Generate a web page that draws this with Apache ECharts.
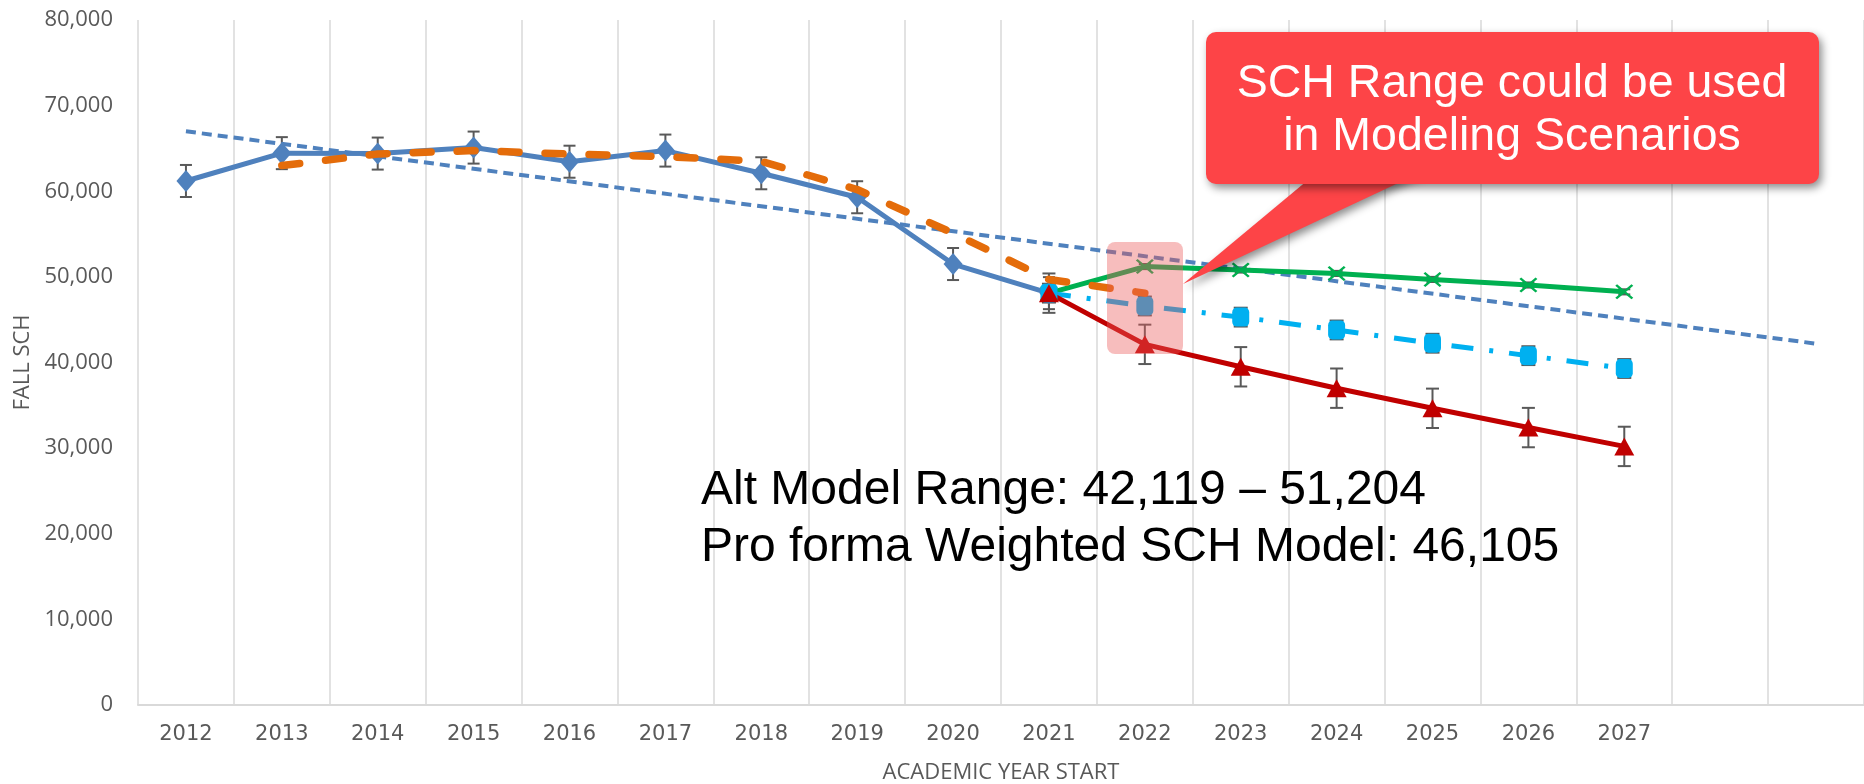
<!DOCTYPE html>
<html><head><meta charset="utf-8">
<script src="https://cdn.jsdelivr.net/npm/echarts@6/dist/echarts.min.js"></script>
<style>html,body{margin:0;padding:0;background:#fff}#c{width:1864px;height:784px}</style>
</head><body><div id="c"></div>
<script>
// Categories (two empty slots at the end, as in the reference)
const years = ['2012','2013','2014','2015','2016','2017','2018','2019','2020','2021','2022','2023','2024','2025','2026','2027','',''];
// Actual fall SCH (blue, diamonds)
const actual = [61200, 64450, 64400, 65100, 63450, 64750, 62100, 59300, 51500, 48100, null, null, null, null, null, null, null, null];
const actualErr = [1870, 1870, 1870, 1870, 1870, 1870, 1870, 1870, 1870, 1870, null, null, null, null, null, null, null, null];
// Orange dashed (moving average)
const movingAvg = [null, 63000, 64350, 64750, 64350, 64050, 63500, 60200, 55100, 49700, 48100, null, null, null, null, null, null, null];
// Linear trend (blue dotted) end points
const trend = [67000, null, null, null, null, null, null, null, null, null, null, null, null, null, null, null, null, 42200];
// Alt model high (green)
const altHigh = [null, null, null, null, null, null, null, null, null, 48100, 51204, 50800, 50400, 49700, 49050, 48250, null, null];
const altHighErr = [null, null, null, null, null, null, null, null, null, 300, 300, 300, 300, 300, 300, 300, null, null];
// Pro forma weighted (cyan dash-dot)
const proForma = [null, null, null, null, null, null, null, null, null, 48100, 46600, 45300, 43800, 42250, 40800, 39300, null, null];
const proFormaErr = [null, null, null, null, null, null, null, null, null, 1100, 1100, 1100, 1100, 1100, 1100, 1100, null, null];
// Alt model low (red)
const altLow = [null, null, null, null, null, null, null, null, null, 48100, 42119, 39500, 37000, 34650, 32400, 30200, null, null];
const altLowErr = [null, null, null, null, null, null, null, null, null, 2300, 2300, 2300, 2300, 2300, 2300, 2300, null, null];

const yTicks = {min: 0, max: 80000, interval: 10000};

function errData(vals, errs) {
  const out = [];
  vals.forEach((v, i) => { if (v != null && errs[i] != null) out.push([i, v, errs[i]]); });
  return out;
}
function errSeries(vals, errs, capW) {
  return {
    type: 'custom', z: 1, silent: true,
    encode: {x: 0, y: 1},
    data: errData(vals, errs),
    renderItem: function (params, api) {
      const x = api.value(0), y = api.value(1), e = api.value(2);
      const t = api.coord([x, y + e]), b = api.coord([x, y - e]);
      const st = {stroke: '#595959', lineWidth: 2};
      return {type: 'group', children: [
        {type: 'line', shape: {x1: t[0], y1: t[1], x2: b[0], y2: b[1]}, style: st},
        {type: 'line', shape: {x1: t[0] - capW / 2, y1: t[1], x2: t[0] + capW / 2, y2: t[1]}, style: st},
        {type: 'line', shape: {x1: b[0] - capW / 2, y1: b[1], x2: b[0] + capW / 2, y2: b[1]}, style: st}
      ]};
    }
  };
}

const xMark = 'path://M0,1 L1,0 L5,4 L9,0 L10,1 L6,5 L10,9 L9,10 L5,6 L1,10 L0,9 L4,5 Z';
const chart = echarts.init(document.getElementById('c'));
chart.setOption({
  animation: false,
  backgroundColor: '#ffffff',
  grid: {left: 138, right: 0, top: 20, bottom: 79, containLabel: false, outerBoundsMode: 'none'},
  xAxis: {
    type: 'category', data: years, boundaryGap: true,
    name: 'ACADEMIC YEAR START', nameLocation: 'middle', nameGap: 57,
    nameTextStyle: {color: '#595959', fontSize: 22, fontFamily: 'Open Sans'},
    axisLine: {show: true, lineStyle: {color: '#D9D9D9', width: 2}},
    axisTick: {show: false},
    axisLabel: {color: '#595959', fontSize: 21, fontFamily: 'DejaVu Sans', margin: 19, interval: 0},
    splitLine: {show: true, lineStyle: {color: '#D9D9D9', width: 1.5}}
  },
  yAxis: {
    type: 'value', min: yTicks.min, max: yTicks.max, interval: yTicks.interval,
    name: 'FALL SCH', nameLocation: 'middle', nameGap: 102,
    nameTextStyle: {color: '#595959', fontSize: 22, fontFamily: 'Open Sans'},
    axisLine: {show: false}, axisTick: {show: false}, splitLine: {show: false},
    axisLabel: {color: '#595959', fontSize: 22, fontFamily: 'Open Sans', margin: 25,
      formatter: v => v.toLocaleString('en-US')}
  },
  series: [
    {type: 'line', data: trend, connectNulls: true, symbol: 'none', z: 2,
      lineStyle: {color: '#4F81BD', width: 4, type: [10, 6]}},
    errSeries(actual, actualErr, 12),
    {type: 'line', data: actual, symbol: 'diamond', symbolSize: [19, 22], z: 3,
      itemStyle: {color: '#4F81BD'}, lineStyle: {color: '#4F81BD', width: 5}},
    {type: 'line', data: movingAvg, symbol: 'none', z: 4,
      lineStyle: {color: '#E46C0A', width: 7.5, type: [18, 26], cap: 'round'}},
    errSeries(altHigh, altHighErr, 12),
    {type: 'line', data: altHigh, symbol: xMark, symbolSize: [18, 15], z: 3,
      itemStyle: {color: '#00B050'}, lineStyle: {color: '#00B050', width: 5}},
    errSeries(proForma, proFormaErr, 14),
    {type: 'line', data: proForma, symbol: 'roundRect', symbolSize: [17, 19], z: 3,
      itemStyle: {color: '#00B0F0'}, lineStyle: {color: '#00B0F0', width: 5, type: [22, 16, 4, 16]}},
    errSeries(altLow, altLowErr, 13),
    {type: 'line', data: altLow, symbol: 'triangle', symbolSize: [20, 18], z: 3,
      itemStyle: {color: '#C00000'}, lineStyle: {color: '#C00000', width: 5}}
  ],
  graphic: [
    {type: 'rect', z: 100, shape: {x: 1107, y: 242, width: 76, height: 112, r: 8},
      style: {fill: 'rgba(235,90,90,0.4)'}},
    {type: 'polygon', z: 101, shape: {points: [[1320, 170], [1426, 170], [1183, 284]]},
      style: {fill: '#FD4447', shadowBlur: 8, shadowColor: 'rgba(0,0,0,0.45)', shadowOffsetX: 3, shadowOffsetY: 4}},
    {type: 'rect', z: 102, shape: {x: 1206, y: 32, width: 613, height: 152, r: 10},
      style: {fill: '#FD4447', shadowBlur: 8, shadowColor: 'rgba(0,0,0,0.45)', shadowOffsetX: 3, shadowOffsetY: 4}},
    {type: 'text', z: 103, style: {text: 'SCH Range could be used\nin Modeling Scenarios', x: 1512, y: 110.5,
      align: 'center', verticalAlign: 'middle', font: '46.5px "Liberation Sans"', fill: '#ffffff', lineHeight: 53}},
    {type: 'text', z: 103, style: {text: 'Alt Model Range: 42,119 \u2013 51,204\nPro forma Weighted SCH Model: 46,105', x: 701, y: 519,
      align: 'left', verticalAlign: 'middle', font: '48px "Liberation Sans"', fill: '#000000', lineHeight: 57}}
  ]
});
</script></body></html>
